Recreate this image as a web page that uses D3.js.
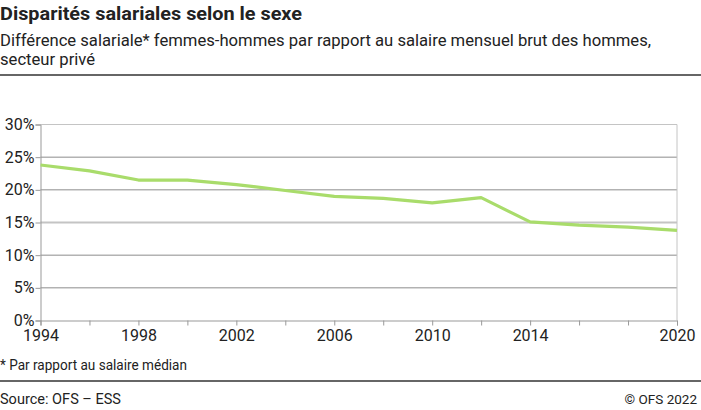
<!DOCTYPE html>
<html>
<head>
<meta charset="utf-8">
<script src="https://cdn.jsdelivr.net/npm/d3@7"></script>
<style>
  body { margin: 0; background: #fff; }
  svg { display: block; font-family: Roboto, "Noto Sans", sans-serif; }
</style>
</head>
<body>
<svg id="chart" width="701" height="410"></svg>
<script>
// chart values
const years = [1994, 1996, 1998, 2000, 2002, 2004, 2006, 2008, 2010, 2012, 2014, 2016, 2018, 2020];
const gap = [23.8, 22.9, 21.5, 21.5, 20.8, 19.9, 19.0, 18.7, 18.0, 18.8, 15.1, 14.6, 14.3, 13.8];
const yTicks = [0, 5, 10, 15, 20, 25, 30];
const xLabels = [1994, 1998, 2002, 2006, 2010, 2014, 2020];

const svg = d3.select("#chart");
const ink = "#222";

// squeeze a text to a width (no Roboto Condensed installed)
function squeeze(sel, w) {
    sel.attr("textLength", w).attr("lengthAdjust", "spacingAndGlyphs");
    return sel;
}

// titles
squeeze(svg.append("text").attr("x", 0).attr("y", 20)
    .attr("font-size", 18.5).attr("font-weight", "bold").attr("fill", ink)
    .text("Disparités salariales selon le sexe"), 302);

const sub1 = svg.append("text").attr("x", 0).attr("y", 46)
    .attr("font-size", 16).attr("fill", ink)
    .text("Différence salariale* femmes-hommes par rapport au salaire mensuel brut des hommes,");
const sub2 = svg.append("text").attr("x", 0).attr("y", 65)
    .attr("font-size", 16).attr("fill", ink)
    .text("secteur privé");
// same condensing ratio on both lines
const k = 651 / sub1.node().getComputedTextLength();
squeeze(sub1, 651);
squeeze(sub2, sub2.node().getComputedTextLength() * k);

// separator rules
svg.append("line").attr("x1", 0).attr("x2", 701).attr("y1", 75).attr("y2", 75)
    .attr("stroke", "#333").attr("stroke-width", 1.5);
svg.append("line").attr("x1", 0).attr("x2", 701).attr("y1", 381).attr("y2", 381)
    .attr("stroke", "#333").attr("stroke-width", 1.5);

// scales
const x = d3.scaleLinear().domain([1994, 2020]).range([40.5, 677]);
const y = d3.scaleLinear().domain([0, 30]).range([320.5, 124.5]);

// gridlines
svg.append("g").selectAll("line")
    .data(yTicks.filter(t => t > 0))
    .join("line")
    .attr("x1", x(1994)).attr("x2", x(2020))
    .attr("y1", d => y(d)).attr("y2", d => y(d))
    .attr("stroke", d => (d === 15 || d === 30) ? "#c4c4c4" : "#8c8c8c")
    .attr("stroke-width", d => d === 15 ? 2 : 1);

// right frame
svg.append("line").attr("x1", x(2020)).attr("x2", x(2020))
    .attr("y1", y(30)).attr("y2", y(0))
    .attr("stroke", "#c4c4c4").attr("stroke-width", 1);

// y axis
const yAxis = svg.append("g")
    .attr("transform", `translate(${x(1994)},0)`)
    .call(d3.axisLeft(y).tickValues(yTicks).tickFormat(d => d + "%").tickSize(5).tickPadding(1));
yAxis.select(".domain").attr("stroke", "#999");
yAxis.selectAll(".tick line").attr("stroke", "#999");
yAxis.selectAll("text").attr("font-size", 16).attr("fill", ink).attr("font-family", "Roboto");

// x axis
const xAxis = svg.append("g")
    .attr("transform", `translate(0,${y(0)})`)
    .call(d3.axisBottom(x).tickValues(years)
        .tickFormat(d => xLabels.includes(d) ? d : "").tickSize(5).tickPadding(4));
xAxis.select(".domain").attr("stroke", "#999");
xAxis.selectAll(".tick line").attr("stroke", "#999");
xAxis.selectAll("text").attr("font-size", 16).attr("fill", ink).attr("font-family", "Roboto");

// line
const line = d3.line().x((d, i) => x(years[i])).y(d => y(d));
svg.append("path").datum(gap)
    .attr("fill", "none").attr("stroke", "#a9dc6b").attr("stroke-width", 3.2)
    .attr("stroke-linejoin", "round")
    .attr("d", line);

// footnote and source
squeeze(svg.append("text").attr("x", 0).attr("y", 370)
    .attr("font-size", 14).attr("fill", ink)
    .text("* Par rapport au salaire médian"), 187);
squeeze(svg.append("text").attr("x", 0).attr("y", 404)
    .attr("font-size", 14).attr("fill", ink)
    .text("Source: OFS –  ESS"), 121);
svg.append("text").attr("x", 697).attr("y", 404)
    .attr("font-size", 13.5).attr("fill", ink).attr("text-anchor", "end")
    .text("© OFS 2022");
</script>
</body>
</html>
